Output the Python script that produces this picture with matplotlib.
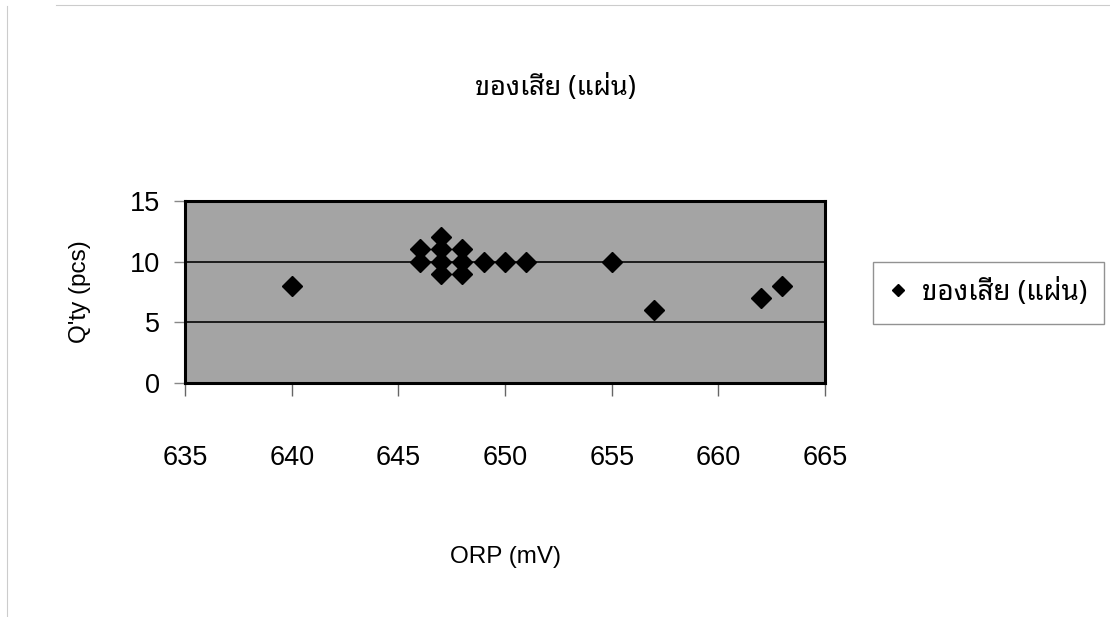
import matplotlib
matplotlib.use('Agg')
import matplotlib.pyplot as plt
from matplotlib.lines import Line2D

# ORP reading vs. number of rejected sheets
orp = [640, 646, 646, 647, 647, 647, 647, 648, 648, 648, 649, 650, 651, 655, 657, 662, 663]
qty = [8, 10, 11, 9, 10, 11, 12, 9, 10, 11, 10, 10, 10, 10, 6, 7, 8]

series_name = 'ของเสีย (แผ่น)'
x_label = 'ORP (mV)'
y_label = "Q'ty (pcs)"
x_ticks = [635, 640, 645, 650, 655, 660, 665]
y_ticks = [0, 5, 10, 15]

thai = ['Noto Sans Thai Looped', 'DejaVu Sans']
plt.rcParams['font.family'] = ['Liberation Sans', 'DejaVu Sans']

fig = plt.figure(figsize=(11.1, 6.17), dpi=100)
ax = fig.add_axes([0.1667, 0.3793, 0.5766, 0.2950])

ax.set_facecolor('#a4a4a4')
for y in [5, 10]:
    ax.axhline(y, color='#111111', lw=1.3, zorder=1)

ax.plot(orp, qty, linestyle='none', marker='D', markersize=10,
        color='black', label=series_name, zorder=3)

ax.set_xlim(635, 665)
ax.set_ylim(0, 15)
ax.set_xticks(x_ticks)
ax.set_yticks(y_ticks)
ax.tick_params(axis='x', direction='out', length=9, width=1, color='#666666',
               pad=36, labelsize=19.5)
ax.tick_params(axis='y', direction='out', length=8, width=1, color='#888888',
               pad=10, labelsize=19.5)
for s in ax.spines.values():
    s.set_linewidth(2.2)
    s.set_color('black')

ax.set_xlabel(x_label, fontsize=17.5, labelpad=54)
ax.set_ylabel(y_label, fontsize=17.5, labelpad=28)
fig.text(0.5, 0.857, series_name, fontsize=19.5, ha='center', va='center',
         family=thai)

leg = ax.legend(loc='center left', bbox_to_anchor=(0.7865, 0.525),
                bbox_transform=fig.transFigure, borderaxespad=0,
                fancybox=False, frameon=True, edgecolor='#777777',
                markerscale=0.65, handlelength=0.6, handletextpad=0.55,
                borderpad=0.6, prop={'family': thai, 'size': 20})
leg.get_frame().set_linewidth(1.0)

# scanned page edges
fig.add_artist(Line2D([0.05, 1.0], [0.992, 0.992], color='#cccccc', lw=0.8,
                      transform=fig.transFigure))
fig.add_artist(Line2D([0.006, 0.006], [0.0, 0.99], color='#cccccc', lw=0.8,
                      transform=fig.transFigure))

fig.savefig('out.png', dpi=100)
